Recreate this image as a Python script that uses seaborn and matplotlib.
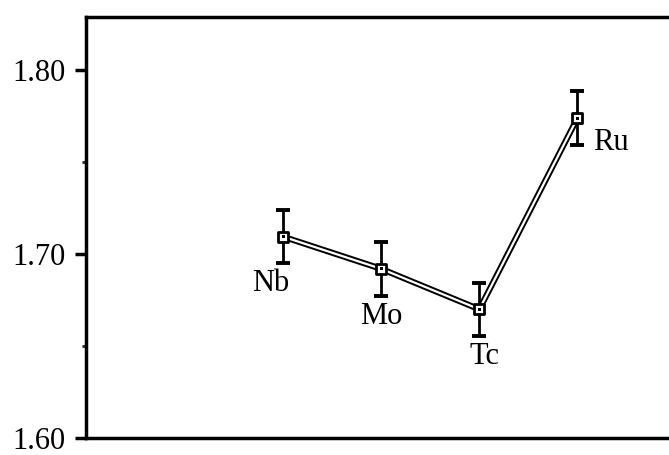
import matplotlib
matplotlib.use("Agg")
import matplotlib.pyplot as plt
import matplotlib.patheffects as pe
import seaborn as sns
import pandas as pd

elements = ["Nb", "Mo", "Tc", "Ru"]
values = [1.7095, 1.692, 1.670, 1.774]
errors = [0.0145, 0.0145, 0.0145, 0.0145]

sns.set_theme(style="white")
plt.rcParams["font.family"] = ["Liberation Serif", "DejaVu Serif"]

df = pd.DataFrame({"pos": range(len(elements)), "value": values, "err": errors, "element": elements})

fig = plt.figure(figsize=(6.69, 4.55), dpi=100)
ax = fig.add_axes([86 / 669, 1 - 438 / 455, 1.02 - 86 / 669, (438 - 17) / 455])

# hollow connecting line: thick black stroke with a white core
sns.lineplot(data=df, x="pos", y="value", ax=ax, color="white", lw=1.6, sort=False,
             path_effects=[pe.Stroke(linewidth=4.4, foreground="black"), pe.Normal()], zorder=2)

ax.errorbar(df["pos"], df["value"], yerr=df["err"], fmt="none", ecolor="black",
            elinewidth=2.0, capsize=5, capthick=2.8, zorder=3)
ax.scatter(df["pos"], df["value"], marker="s", s=60, facecolor="white", edgecolor="black",
           linewidths=2.0, zorder=4)
ax.scatter(df["pos"], df["value"], marker="s", s=5, facecolor="black", edgecolor="none", zorder=5)

offsets = {"Nb": (-0.13, -0.0256), "Mo": (0.0, -0.026), "Tc": (0.05, -0.0256), "Ru": (0.34, -0.013)}
for x, y, name in zip(df["pos"], df["value"], elements):
    dx, dy = offsets[name]
    ax.text(x + dx, y + dy, name, ha="center", va="center", fontsize=22, color="black")

ax.set_xlim(-2.01, 4.07)
ax.set_ylim(1.60, 1.829)
ax.set_yticks([1.60, 1.70, 1.80])
ax.set_yticklabels(["1.60", "1.70", "1.80"])
ax.set_yticks([1.65, 1.75], minor=True)
ax.set_xticks([])
ax.set_xlabel("")
ax.set_ylabel("")

for side in ["left", "top", "bottom"]:
    ax.spines[side].set_color("black")
    ax.spines[side].set_linewidth(2.5)
ax.spines["right"].set_visible(False)

ax.tick_params(axis="y", which="major", direction="out", length=8, width=2.5,
               labelsize=22, pad=7, left=True, colors="black")
ax.tick_params(axis="y", which="minor", direction="out", length=3, width=2.0, left=True)

fig.savefig("out.png", dpi=100)
